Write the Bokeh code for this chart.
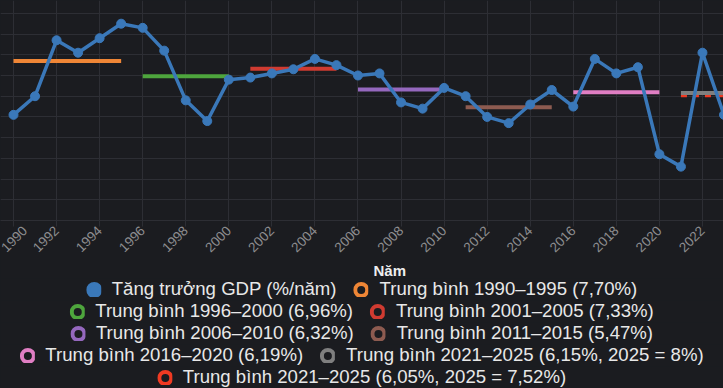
from math import pi
from bokeh.plotting import figure
from bokeh.layouts import column
from bokeh.models import Range1d, FixedTicker, Legend, LegendItem, Title
from bokeh.embed import file_html
from bokeh.resources import INLINE

# ---- data ----
years = list(range(1990, 2025))
gdp = [5.1, 6.0, 8.7, 8.1, 8.8, 9.5, 9.3, 8.2, 5.8, 4.8,
       6.8, 6.9, 7.1, 7.3, 7.8, 7.5, 7.0, 7.1, 5.7, 5.4,
       6.4, 6.0, 5.0, 4.7, 5.6, 6.3, 5.5, 7.8, 7.1, 7.4,
       3.2, 2.6, 8.1, 5.1, 7.0]
gdp_label = "Tăng trưởng GDP (%/năm)"

period_start = [1990, 1996, 2001, 2006, 2011, 2016, 2021, 2021]
period_end = [1995, 2000, 2005, 2010, 2015, 2020, 2025, 2025]
period_avg = [7.70, 6.96, 7.33, 6.32, 5.47, 6.19, 6.15, 6.05]
period_labels = [
    "Trung bình 1990–1995 (7,70%)",
    "Trung bình 1996–2000 (6,96%)",
    "Trung bình 2001–2005 (7,33%)",
    "Trung bình 2006–2010 (6,32%)",
    "Trung bình 2011–2015 (5,47%)",
    "Trung bình 2016–2020 (6,19%)",
    "Trung bình 2021–2025 (6,15%, 2025 = 8%)",
    "Trung bình 2021–2025 (6,05%, 2025 = 7,52%)",
]
x_ticks = list(range(1990, 2026, 2))
y_grid = list(range(0, 11))
x_title = "Năm"
legend_rows = [[0, 1], [2, 3], [4, 5], [6, 7], [8]]

# ---- styles ----
BG = "#1b1c20"
GRID = "#2d2e34"
BLUE = "#3a78b9"
period_colors = ["#ef8636", "#4ea53d", "#d03b31", "#9568be",
                 "#8d5b50", "#e07ec3", "#7f7f7f", "#f03a22"]
period_dash = ["solid"] * 7 + ["6 6"]
FONT = "Liberation Sans"
W = 723
DARK_CSS = [":host { background-color: #1b1c20; }"]

p = figure(width=W, height=278, output_backend="svg", toolbar_location=None,
           x_range=Range1d(1989.396, 2022.977), y_range=Range1d(0, 10.62),
           y_axis_location=None, min_border=0, stylesheets=DARK_CSS)
p.background_fill_color = BG
p.border_fill_color = BG
p.outline_line_color = None

p.xgrid.ticker = FixedTicker(ticks=x_ticks)
p.ygrid.ticker = FixedTicker(ticks=y_grid)
p.xgrid.grid_line_color = GRID
p.ygrid.grid_line_color = GRID

ax = p.xaxis[0]
ax.ticker = FixedTicker(ticks=x_ticks)
ax.major_label_orientation = pi / 4
ax.major_label_text_color = "#8e8e90"
ax.major_label_text_font = FONT
ax.major_label_text_font_size = "13.5px"
ax.major_label_standoff = 2
ax.axis_line_color = GRID
ax.major_tick_line_color = GRID
ax.major_tick_out = 6
ax.major_tick_in = 0
ax.minor_tick_line_color = None

# average lines (red dashed under grey)
for i in [7, 0, 1, 2, 3, 4, 5, 6]:
    p.line([period_start[i], period_end[i]], [period_avg[i], period_avg[i]],
           line_color=period_colors[i], line_width=4, line_dash=period_dash[i])

p.line(years, gdp, line_color=BLUE, line_width=3.5)
p.scatter(years, gdp, size=9, fill_color=BLUE, line_color=BLUE)

title = Title(text=x_title, align="left", offset=373, text_font=FONT,
              text_font_size="15px", text_font_style="bold", text_color="#eeeeee",
              standoff=0)
p.add_layout(title, "below")

labels_all = [gdp_label] + period_labels
fills_all = [BLUE] + [BG] * len(period_colors)
lines_all = [BLUE] + period_colors

figs = [p]
for row in legend_rows:
    f = figure(width=W, height=22, output_backend="svg", toolbar_location=None,
               x_range=Range1d(0, 1), y_range=Range1d(0, 1),
               x_axis_location=None, y_axis_location=None, min_border=0,
               stylesheets=DARK_CSS)
    f.background_fill_color = BG
    f.border_fill_color = BG
    f.outline_line_color = None
    f.xgrid.grid_line_color = None
    f.ygrid.grid_line_color = None
    items = []
    for k in row:
        r = f.ellipse(x=[-10], y=[-10], width=10, height=10, width_units="screen",
                      height_units="screen", fill_color=fills_all[k],
                      line_color=lines_all[k], line_width=4)
        items.append(LegendItem(label=labels_all[k], renderers=[r]))
    leg = Legend(items=items, orientation="horizontal", location="center",
                 glyph_width=15, glyph_height=15, label_height=22, label_standoff=11,
                 spacing=17, padding=0, margin=0, border_line_color=None,
                 background_fill_alpha=0,
                 label_text_font=FONT, label_text_font_size="18.6px",
                 label_text_color="#e8e8e8")
    f.add_layout(leg, "center")
    figs.append(f)

layout = column(*figs, spacing=0, stylesheets=DARK_CSS)
open("out.html", "w").write(file_html(layout, INLINE))
